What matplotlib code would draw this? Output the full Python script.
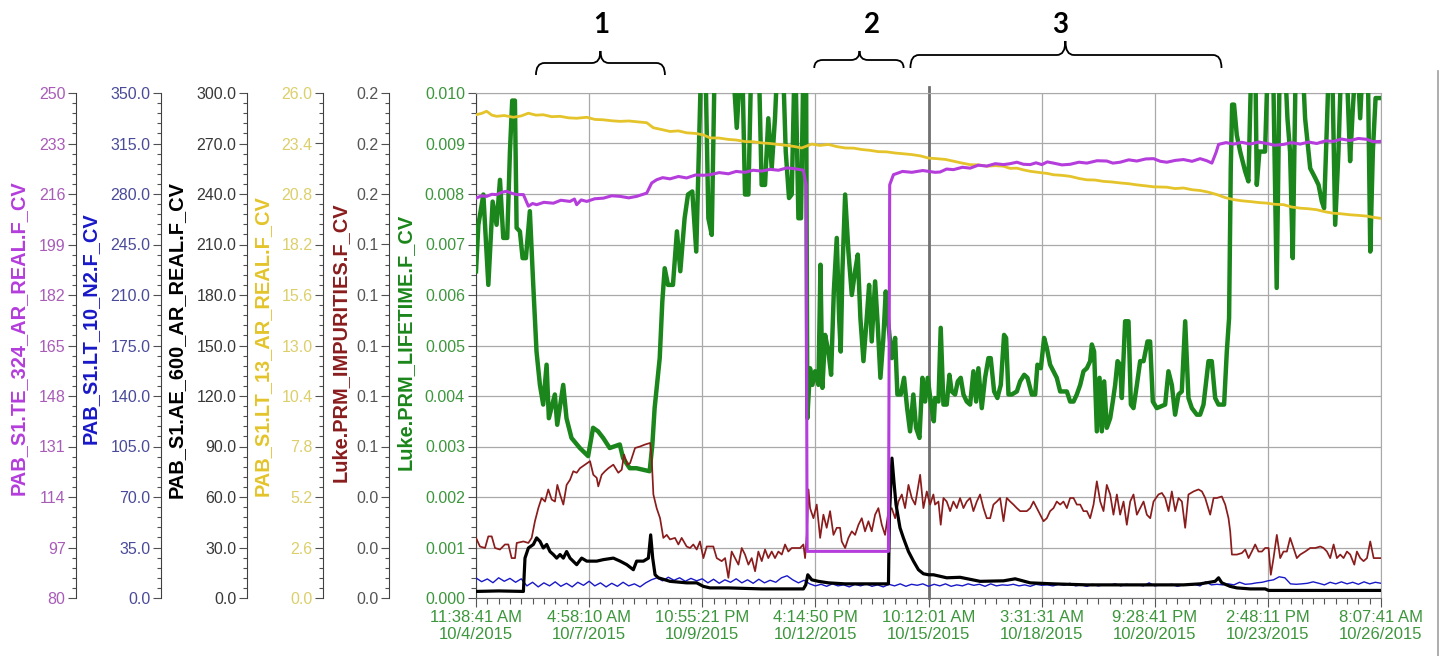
import numpy as np
import matplotlib
matplotlib.use("Agg")
import matplotlib.pyplot as plt
import matplotlib.transforms as mtransforms
from matplotlib.path import Path
from matplotlib.patches import PathPatch
from matplotlib.lines import Line2D
from matplotlib.ticker import FixedLocator, AutoMinorLocator, FormatStrFormatter

plt.rcParams['font.family'] = ['Liberation Sans', 'DejaVu Sans']

# ---------------- data ----------------
# x position: elapsed time measured in tick intervals (tick k = time_labels[k])
time_labels = ["11:38:41 AM\n10/4/2015", "4:58:10 AM\n10/7/2015", "10:55:21 PM\n10/9/2015",
               "4:14:50 PM\n10/12/2015", "10:12:01 AM\n10/15/2015", "3:31:31 AM\n10/18/2015",
               "9:28:41 PM\n10/20/2015", "2:48:11 PM\n10/23/2015", "8:07:41 AM\n10/26/2015"]
time_ticks = [0, 1, 2, 3, 4, 5, 6, 7, 8]

# Luke.PRM_LIFETIME.F_CV  (values in units of 1e-3; 11 = off scale above 0.010)
lifetime_pts = [
    (0.000, 6.47), (0.021, 7.39), (0.065, 7.99), (0.109, 6.20), (0.147, 7.85), (0.182, 7.39),
    (0.212, 8.28), (0.241, 7.13), (0.276, 7.13), (0.300, 8.84), (0.320, 9.85), (0.344, 9.85),
    (0.359, 7.33), (0.388, 7.26), (0.412, 6.73), (0.441, 6.73), (0.476, 7.66), (0.506, 6.20),
    (0.535, 4.88), (0.565, 4.22), (0.594, 3.83), (0.624, 4.62), (0.644, 3.56), (0.697, 4.03),
    (0.718, 3.43), (0.771, 4.22), (0.800, 3.56), (0.844, 3.17), (0.918, 2.97), (0.991, 2.81),
    (1.035, 3.37), (1.079, 3.30), (1.124, 3.17), (1.182, 2.97), (1.271, 3.04), (1.300, 2.77),
    (1.359, 2.57), (1.418, 2.57), (1.535, 2.51), (1.559, 3.04), (1.579, 3.76), (1.624, 4.75),
    (1.647, 5.87), (1.668, 6.53), (1.697, 6.20), (1.741, 6.20), (1.776, 7.26), (1.806, 6.47),
    (1.844, 7.52), (1.874, 7.99), (1.912, 8.05), (1.947, 6.86), (1.995, 11), (2.025, 11),
    (2.054, 7.52), (2.084, 7.19), (2.113, 11), (2.260, 11), (2.305, 9.31), (2.350, 11),
    (2.378, 7.99), (2.408, 7.99), (2.437, 11), (2.496, 11), (2.525, 8.18), (2.555, 8.18),
    (2.584, 9.50), (2.614, 8.51), (2.643, 9.50), (2.673, 11), (2.708, 11), (2.738, 8.84),
    (2.767, 7.92), (2.791, 7.99), (2.820, 11), (2.850, 7.52), (2.873, 7.52), (2.897, 11),
    (2.917, 11), (2.929, 3.56), (2.953, 4.55), (2.974, 4.22), (2.997, 4.49), (3.027, 4.22),
    (3.045, 6.60), (3.062, 4.16), (3.086, 5.21), (3.115, 4.88), (3.139, 4.42), (3.163, 6.07),
    (3.189, 7.13), (3.210, 5.54), (3.224, 4.88), (3.239, 6.47), (3.263, 7.99), (3.292, 6.86),
    (3.322, 6.00), (3.351, 6.47), (3.375, 6.80), (3.398, 5.54), (3.425, 4.69), (3.454, 5.54),
    (3.475, 6.20), (3.498, 5.08), (3.528, 6.27), (3.551, 5.41), (3.575, 4.36), (3.601, 5.15),
    (3.622, 6.07), (3.646, 5.41), (3.675, 4.75), (3.705, 5.15), (3.725, 4.03), (3.755, 4.03),
    (3.784, 4.36), (3.811, 3.76), (3.837, 3.30), (3.866, 4.03), (3.890, 3.37), (3.920, 3.17),
    (3.946, 4.36), (3.970, 3.89), (3.993, 4.36), (4.023, 3.83), (4.047, 3.50), (4.058, 3.96),
    (4.088, 3.89), (4.108, 5.35), (4.132, 3.83), (4.161, 3.83), (4.185, 4.42), (4.205, 4.09),
    (4.235, 4.03), (4.259, 4.29), (4.285, 4.36), (4.309, 4.03), (4.338, 3.89), (4.368, 3.83),
    (4.397, 4.49), (4.421, 3.89), (4.441, 4.55), (4.471, 3.76), (4.500, 4.36), (4.530, 4.75),
    (4.550, 4.75), (4.580, 4.09), (4.609, 3.96), (4.639, 4.22), (4.668, 5.21), (4.686, 5.15),
    (4.707, 4.03), (4.736, 4.03), (4.781, 4.09), (4.810, 4.29), (4.846, 4.42), (4.875, 4.36),
    (4.913, 4.03), (4.943, 4.03), (4.963, 4.62), (4.993, 4.55), (5.022, 5.15), (5.046, 4.95),
    (5.075, 4.62), (5.105, 4.49), (5.134, 4.36), (5.164, 4.09), (5.193, 4.09), (5.223, 4.09),
    (5.252, 3.89), (5.282, 3.89), (5.311, 4.03), (5.341, 4.22), (5.370, 4.49), (5.400, 4.55),
    (5.429, 4.69), (5.444, 5.02), (5.464, 4.88), (5.488, 3.30), (5.512, 4.36), (5.532, 3.30),
    (5.553, 4.29), (5.576, 3.37), (5.606, 3.56), (5.629, 3.89), (5.650, 4.22), (5.671, 4.69),
    (5.694, 4.62), (5.709, 3.96), (5.738, 5.48), (5.768, 5.48), (5.789, 3.83), (5.812, 3.76),
    (5.842, 4.22), (5.871, 4.69), (5.901, 4.69), (5.936, 5.08), (5.959, 5.08), (5.983, 3.89),
    (6.018, 3.76), (6.092, 3.83), (6.121, 4.49), (6.151, 4.22), (6.180, 3.63), (6.210, 4.03),
    (6.239, 4.09), (6.269, 5.48), (6.298, 3.96), (6.328, 3.76), (6.372, 3.63), (6.401, 3.63),
    (6.431, 3.83), (6.475, 4.69), (6.504, 4.69), (6.534, 3.96), (6.563, 3.83), (6.613, 3.83),
    (6.637, 4.88), (6.657, 5.54), (6.672, 8.51), (6.684, 9.77), (6.701, 9.77), (6.725, 9.17),
    (6.755, 8.84), (6.799, 8.45), (6.828, 8.25), (6.858, 11), (6.887, 11), (6.902, 8.18),
    (6.925, 8.84), (6.975, 8.84), (7.005, 11), (7.043, 11), (7.078, 6.14), (7.107, 11),
    (7.143, 11), (7.173, 9.50), (7.196, 8.84), (7.220, 6.73), (7.249, 11), (7.299, 11),
    (7.329, 9.50), (7.374, 8.51), (7.418, 8.32), (7.448, 8.18), (7.477, 7.85), (7.497, 7.72),
    (7.521, 9.31), (7.545, 11), (7.565, 11), (7.595, 7.39), (7.624, 8.84), (7.654, 11),
    (7.689, 11), (7.727, 8.65), (7.748, 9.57), (7.786, 11), (7.816, 9.50), (7.846, 11),
    (7.881, 11), (7.905, 6.86), (7.928, 8.84), (7.952, 9.90), (7.987, 9.90)]

# PAB_S1.TE_324_AR_REAL.F_CV
te324_pts = [
    (0.000, 214.6), (0.050, 215.4), (0.094, 215.2), (0.140, 215.9), (0.183, 215.8), (0.230, 216.6),
    (0.271, 216.9), (0.320, 216.2), (0.360, 215.8), (0.419, 215.8), (0.445, 213.5), (0.463, 211.9),
    (0.500, 212.8), (0.536, 212.4), (0.600, 213.2), (0.684, 212.9), (0.750, 213.9), (0.831, 213.5),
    (0.870, 214.3), (0.890, 212.4), (0.930, 214.0), (0.979, 213.5), (1.050, 214.4), (1.126, 214.6),
    (1.200, 215.4), (1.274, 215.2), (1.350, 214.7), (1.420, 215.2), (1.509, 216.3), (1.553, 219.7),
    (1.597, 220.8), (1.650, 221.5), (1.715, 221.1), (1.790, 221.9), (1.862, 221.4), (1.940, 222.4),
    (2.010, 222.3), (2.069, 222.5), (2.150, 223.2), (2.231, 222.8), (2.300, 223.6), (2.378, 223.3),
    (2.450, 224.0), (2.526, 223.7), (2.600, 224.3), (2.673, 224.0), (2.750, 224.8), (2.820, 224.5),
    (2.894, 224.0), (2.918, 219.1), (2.927, 95.7), (3.646, 95.7), (3.657, 219.1), (3.690, 222.5),
    (3.770, 223.6), (3.852, 223.3), (3.950, 223.9), (4.058, 223.3), (4.102, 223.4), (4.160, 224.4),
    (4.220, 224.2), (4.300, 225.0), (4.368, 224.7), (4.440, 225.7), (4.515, 225.4), (4.590, 226.2),
    (4.663, 225.9), (4.720, 226.2), (4.781, 226.7), (4.840, 226.0), (4.899, 225.9), (4.950, 226.5),
    (5.002, 225.9), (5.050, 226.8), (5.105, 226.4), (5.180, 225.8), (5.252, 226.0), (5.330, 226.7),
    (5.400, 226.4), (5.490, 227.2), (5.576, 227.1), (5.630, 226.4), (5.694, 226.7), (5.770, 227.5),
    (5.842, 227.1), (5.920, 227.8), (5.989, 227.9), (6.050, 227.0), (6.107, 226.7), (6.180, 227.3),
    (6.254, 227.6), (6.330, 227.0), (6.401, 227.9), (6.460, 227.2), (6.505, 226.4), (6.543, 230.1),
    (6.564, 232.7), (6.630, 233.3), (6.696, 232.8), (6.770, 233.4), (6.844, 232.8), (6.920, 233.5),
    (6.991, 233.0), (7.060, 232.4), (7.139, 232.7), (7.210, 233.3), (7.286, 232.8), (7.360, 233.5),
    (7.432, 233.0), (7.510, 233.9), (7.580, 233.7), (7.650, 234.5), (7.727, 234.0), (7.800, 234.7),
    (7.875, 234.4), (7.930, 233.6), (7.993, 233.7)]

# PAB_S1.LT_10_N2.F_CV  (evenly sampled over the whole span)
lt10_vals = [
    13.9, 11.3, 13.2, 10.6, 14.0, 11.6, 13.6, 10.9, 13.3,
    8.4, 10.9, 7.7, 10.5, 8.4, 11.2, 8.1, 10.2, 7.7, 10.9, 8.8, 11.6, 8.4, 10.5, 7.7, 10.2, 8.1,
    10.9, 8.4, 9.8, 7.7, 10.5,
    12.6, 14.0, 11.9, 14.4, 12.3, 14.0, 11.6, 13.6, 11.9,
    13.3, 10.5, 13.0, 10.2, 12.6, 10.9, 13.3, 10.5, 12.6, 10.2, 13.0, 10.5, 12.3, 10.9, 14.0,
    15.4, 12.6, 10.5, 12.3,
    9.8, 8.4, 9.5, 8.1, 9.8, 8.4, 9.1, 7.7, 9.5, 8.4,
    9.8, 8.1, 9.1, 7.7, 9.5, 8.4, 9.8, 8.1, 9.5, 8.8,
    9.8, 8.1, 9.5, 8.4, 9.8, 8.1, 9.1, 8.4, 9.8, 8.8,
    9.5, 8.1, 9.8, 8.4, 9.1, 8.8, 9.5, 8.4, 9.1, 8.1,
    9.5, 8.8, 9.1, 8.4, 9.5, 8.8, 10.2, 8.4, 9.1, 8.1,
    9.5, 8.4, 9.1, 8.8, 9.8, 8.4, 9.5, 8.8, 9.1, 8.4,
    10.5, 8.4, 9.1, 8.8, 9.5, 8.1, 9.1, 8.8, 9.5, 8.4, 11.2,
    9.1, 9.5, 9.1, 9.8, 9.1, 10.9, 9.5, 9.8, 10.5, 10.9,
    11.9, 12.6, 14.7, 14.0, 9.8, 9.5, 9.8, 10.2, 11.2, 10.2,
    9.1, 10.9, 9.8, 11.2, 9.8, 10.9, 9.5, 11.2, 9.8, 10.9, 10.2]

# PAB_S1.AE_600_AR_REAL.F_CV
ae600_pts = [
    (0.000, 3.9), (0.200, 4.2), (0.419, 3.9), (0.433, 23.7), (0.463, 29.7), (0.507, 31.8),
    (0.536, 35.7), (0.566, 33.6), (0.595, 29.7), (0.625, 31.8), (0.654, 27.6), (0.684, 25.8),
    (0.713, 23.7), (0.743, 25.8), (0.772, 23.7), (0.801, 27.6), (0.831, 23.7), (0.890, 19.8),
    (0.934, 23.7), (0.979, 21.9), (1.067, 21.9), (1.126, 22.8), (1.214, 23.7), (1.274, 21.9),
    (1.333, 19.8), (1.391, 16.8), (1.420, 21.9), (1.480, 21.9), (1.524, 23.7), (1.544, 37.5),
    (1.562, 23.7), (1.583, 13.8), (1.612, 12.0), (1.715, 9.9), (1.862, 9.0), (1.951, 9.0),
    (2.010, 6.9), (2.069, 6.0), (2.231, 6.0), (2.526, 5.4), (2.894, 5.4), (2.915, 7.8),
    (2.933, 13.8), (2.968, 10.8), (3.027, 9.9), (3.115, 9.0), (3.263, 8.4), (3.646, 8.4),
    (3.654, 47.4), (3.677, 83.1), (3.697, 67.2), (3.713, 55.5), (3.748, 41.7), (3.778, 35.7),
    (3.823, 27.6), (3.867, 21.9), (3.911, 16.8), (3.955, 14.4), (4.000, 13.8), (4.044, 13.8),
    (4.161, 12.0), (4.279, 12.3), (4.456, 9.9), (4.663, 10.2), (4.766, 11.4), (4.899, 9.0),
    (5.105, 8.4), (5.400, 7.8), (5.694, 7.8), (5.989, 7.8), (6.254, 7.8), (6.401, 8.4),
    (6.534, 9.9), (6.564, 12.0), (6.593, 9.0), (6.667, 6.9), (6.726, 6.0), (6.844, 5.4),
    (6.976, 5.4), (7.006, 4.5), (7.993, 4.5)]

# PAB_S1.LT_13_AR_REAL.F_CV
lt13_pts = [
    (0.000, 24.88), (0.050, 24.95), (0.094, 25.06), (0.140, 24.86), (0.183, 24.80), (0.250, 24.84),
    (0.330, 24.75), (0.400, 24.82), (0.463, 24.96), (0.530, 24.86), (0.595, 24.88), (0.670, 24.78),
    (0.743, 24.80), (0.820, 24.72), (0.890, 24.70), (0.979, 24.75), (1.050, 24.64), (1.126, 24.62),
    (1.200, 24.57), (1.274, 24.54), (1.350, 24.56), (1.420, 24.52), (1.509, 24.47), (1.568, 24.21),
    (1.640, 24.12), (1.715, 24.02), (1.790, 24.05), (1.862, 23.95), (1.940, 23.92), (2.010, 23.84),
    (2.069, 23.69), (2.150, 23.68), (2.231, 23.61), (2.300, 23.58), (2.378, 23.50), (2.450, 23.49),
    (2.526, 23.43), (2.600, 23.40), (2.673, 23.35), (2.750, 23.30), (2.820, 23.24), (2.879, 23.17),
    (2.968, 23.37), (3.040, 23.30), (3.115, 23.35), (3.190, 23.24), (3.263, 23.17), (3.340, 23.16),
    (3.410, 23.09), (3.480, 23.05), (3.557, 22.98), (3.630, 22.97), (3.705, 22.91), (3.780, 22.87),
    (3.852, 22.83), (3.930, 22.76), (4.000, 22.65), (4.073, 22.62), (4.150, 22.58), (4.220, 22.49),
    (4.290, 22.40), (4.368, 22.31), (4.440, 22.30), (4.515, 22.23), (4.590, 22.26), (4.663, 22.23),
    (4.720, 22.12), (4.781, 22.13), (4.840, 22.04), (4.899, 21.97), (5.002, 21.89), (5.050, 21.86),
    (5.105, 21.79), (5.180, 21.76), (5.252, 21.71), (5.330, 21.60), (5.400, 21.53), (5.470, 21.52),
    (5.547, 21.45), (5.620, 21.42), (5.694, 21.37), (5.770, 21.33), (5.842, 21.27), (5.920, 21.22),
    (5.989, 21.17), (6.107, 21.15), (6.180, 21.08), (6.254, 21.11), (6.330, 21.02), (6.401, 20.98),
    (6.470, 20.90), (6.549, 20.77), (6.620, 20.62), (6.696, 20.51), (6.770, 20.45), (6.844, 20.41),
    (6.920, 20.36), (6.991, 20.33), (7.060, 20.27), (7.139, 20.25), (7.210, 20.13), (7.286, 20.07),
    (7.360, 20.04), (7.432, 19.99), (7.510, 19.88), (7.580, 19.81), (7.650, 19.78), (7.727, 19.73),
    (7.800, 19.70), (7.875, 19.66), (7.930, 19.60), (7.993, 19.55)]

# Luke.PRM_IMPURITIES.F_CV
impurities_pts = [
    (0.000, 0.0238), (0.035, 0.0204), (0.080, 0.0198), (0.109, 0.0244), (0.139, 0.0244), (0.168, 0.0198),
    (0.212, 0.0192), (0.256, 0.0212), (0.286, 0.0212), (0.315, 0.0158), (0.345, 0.0158), (0.360, 0.0218),
    (0.419, 0.0224), (0.463, 0.0218), (0.492, 0.0238), (0.521, 0.0304), (0.551, 0.0356), (0.580, 0.0396),
    (0.610, 0.0382), (0.639, 0.0430), (0.669, 0.0390), (0.698, 0.0382), (0.719, 0.0448), (0.743, 0.0410),
    (0.772, 0.0370), (0.801, 0.0448), (0.831, 0.0468), (0.860, 0.0502), (0.890, 0.0496), (0.919, 0.0514),
    (0.963, 0.0528), (1.008, 0.0542), (1.037, 0.0488), (1.067, 0.0476), (1.081, 0.0442), (1.111, 0.0488),
    (1.140, 0.0502), (1.170, 0.0514), (1.214, 0.0528), (1.258, 0.0496), (1.288, 0.0508), (1.309, 0.0568),
    (1.338, 0.0528), (1.362, 0.0534), (1.406, 0.0594), (1.450, 0.0600), (1.495, 0.0608), (1.539, 0.0614),
    (1.553, 0.0554), (1.568, 0.0410), (1.597, 0.0356), (1.627, 0.0316), (1.656, 0.0238), (1.686, 0.0250),
    (1.715, 0.0232), (1.759, 0.0238), (1.789, 0.0212), (1.818, 0.0238), (1.862, 0.0204), (1.892, 0.0198),
    (1.921, 0.0212), (1.951, 0.0192), (1.980, 0.0224), (2.010, 0.0158), (2.040, 0.0204), (2.069, 0.0204),
    (2.098, 0.0204), (2.128, 0.0158), (2.172, 0.0146), (2.202, 0.0158), (2.231, 0.0080), (2.260, 0.0184),
    (2.290, 0.0158), (2.320, 0.0132), (2.349, 0.0198), (2.378, 0.0172), (2.408, 0.0132), (2.437, 0.0158),
    (2.467, 0.0106), (2.496, 0.0184), (2.526, 0.0146), (2.555, 0.0192), (2.584, 0.0158), (2.614, 0.0184),
    (2.643, 0.0158), (2.673, 0.0184), (2.703, 0.0172), (2.732, 0.0212), (2.761, 0.0184), (2.791, 0.0198),
    (2.820, 0.0198), (2.865, 0.0198), (2.894, 0.0212), (2.909, 0.0158), (2.924, 0.0250), (2.939, 0.0430),
    (2.953, 0.0356), (2.983, 0.0316), (3.012, 0.0370), (3.042, 0.0238), (3.071, 0.0330), (3.100, 0.0278),
    (3.130, 0.0344), (3.160, 0.0250), (3.189, 0.0278), (3.218, 0.0278), (3.233, 0.0224), (3.263, 0.0198),
    (3.292, 0.0238), (3.322, 0.0264), (3.351, 0.0250), (3.381, 0.0290), (3.410, 0.0316), (3.439, 0.0264),
    (3.469, 0.0304), (3.498, 0.0264), (3.528, 0.0330), (3.557, 0.0356), (3.587, 0.0290), (3.616, 0.0250),
    (3.646, 0.0344), (3.675, 0.0356), (3.705, 0.0316), (3.734, 0.0382), (3.764, 0.0410), (3.793, 0.0356),
    (3.823, 0.0448), (3.852, 0.0396), (3.882, 0.0370), (3.911, 0.0448), (3.926, 0.0488), (3.955, 0.0356),
    (3.985, 0.0422), (4.014, 0.0370), (4.043, 0.0410), (4.058, 0.0370), (4.088, 0.0382), (4.108, 0.0290),
    (4.132, 0.0396), (4.161, 0.0382), (4.191, 0.0344), (4.220, 0.0382), (4.250, 0.0356), (4.279, 0.0396),
    (4.309, 0.0356), (4.338, 0.0382), (4.368, 0.0396), (4.397, 0.0344), (4.427, 0.0382), (4.456, 0.0410),
    (4.486, 0.0356), (4.515, 0.0316), (4.545, 0.0316), (4.574, 0.0370), (4.604, 0.0382), (4.633, 0.0396),
    (4.663, 0.0304), (4.692, 0.0396), (4.722, 0.0382), (4.751, 0.0370), (4.781, 0.0356), (4.810, 0.0344),
    (4.869, 0.0344), (4.899, 0.0356), (4.928, 0.0382), (4.958, 0.0356), (4.987, 0.0330), (5.017, 0.0304),
    (5.046, 0.0316), (5.075, 0.0344), (5.105, 0.0356), (5.134, 0.0382), (5.164, 0.0370), (5.193, 0.0382),
    (5.223, 0.0356), (5.252, 0.0396), (5.282, 0.0396), (5.311, 0.0370), (5.341, 0.0370), (5.370, 0.0344),
    (5.400, 0.0344), (5.429, 0.0316), (5.459, 0.0370), (5.488, 0.0462), (5.518, 0.0382), (5.547, 0.0344),
    (5.576, 0.0448), (5.606, 0.0410), (5.635, 0.0330), (5.665, 0.0410), (5.694, 0.0330), (5.724, 0.0382),
    (5.753, 0.0290), (5.783, 0.0382), (5.812, 0.0410), (5.842, 0.0330), (5.871, 0.0356), (5.901, 0.0382),
    (5.930, 0.0330), (5.960, 0.0316), (5.989, 0.0382), (6.033, 0.0410), (6.063, 0.0416), (6.092, 0.0396),
    (6.122, 0.0344), (6.151, 0.0422), (6.181, 0.0344), (6.210, 0.0396), (6.240, 0.0382), (6.269, 0.0278),
    (6.298, 0.0410), (6.343, 0.0422), (6.387, 0.0430), (6.417, 0.0422), (6.446, 0.0396), (6.490, 0.0330),
    (6.520, 0.0396), (6.549, 0.0396), (6.593, 0.0402), (6.623, 0.0370), (6.652, 0.0316), (6.667, 0.0264),
    (6.682, 0.0172), (6.726, 0.0172), (6.770, 0.0178), (6.800, 0.0192), (6.829, 0.0158), (6.858, 0.0184),
    (6.888, 0.0212), (6.917, 0.0184), (6.947, 0.0184), (6.976, 0.0198), (7.006, 0.0198), (7.026, 0.0092),
    (7.050, 0.0158), (7.079, 0.0250), (7.109, 0.0158), (7.138, 0.0184), (7.168, 0.0184), (7.197, 0.0238),
    (7.227, 0.0198), (7.256, 0.0158), (7.286, 0.0172), (7.330, 0.0184), (7.374, 0.0198), (7.419, 0.0198),
    (7.463, 0.0204), (7.492, 0.0198), (7.522, 0.0184), (7.551, 0.0158), (7.581, 0.0212), (7.610, 0.0158),
    (7.640, 0.0172), (7.669, 0.0158), (7.699, 0.0184), (7.728, 0.0172), (7.764, 0.0132), (7.787, 0.0184),
    (7.817, 0.0158), (7.846, 0.0146), (7.876, 0.0158), (7.905, 0.0224), (7.935, 0.0158), (7.994, 0.0158)]

# annotation brackets: (label, start, peak, end) in time-axis units
brackets = [("1", 0.53, 1.10, 1.67), ("2", 2.99, 3.39, 3.78), ("3", 3.84, 5.21, 6.59)]
bracket_label_x = [1.105, 3.50, 5.16]

# ---------------- styling ----------------
W, H = 1440, 656
L, R, T, B = 476, 1381, 93, 598

C_GREEN = "#1b861b"
C_PURPLE = "#b43ddc"
C_BLUE = "#1818c8"
C_BLACK = "#000000"
C_YELLOW = "#e4c42a"
C_DRED = "#8a1c1c"

fig = plt.figure(figsize=(W / 100, H / 100), dpi=100)
ax = fig.add_axes([L / W, 1 - B / H, (R - L) / W, (B - T) / H])
ax.set_axisbelow(True)

# --- main (lifetime) axis ---
gt, gv = zip(*lifetime_pts)
ax.plot(gt, np.array(gv) * 1e-3, color=C_GREEN, lw=3.2, zorder=3)
ax.set_xlim(0, 8)
ax.set_ylim(0, 0.010)
ax.xaxis.set_major_locator(FixedLocator(time_ticks))
ax.set_xticklabels(time_labels)
ax.xaxis.set_minor_locator(AutoMinorLocator(10))
ax.yaxis.set_major_locator(FixedLocator(np.linspace(0, 0.010, 11)))
ax.yaxis.set_major_formatter(FormatStrFormatter('%.3f'))
ax.yaxis.set_minor_locator(AutoMinorLocator(5))
ax.grid(True, which='major', color='#a9a9a9', lw=0.9)
ax.axvline(4, color='#707070', lw=2.0, zorder=1.5, ymax=1.012, clip_on=False)
ax.tick_params(axis='x', which='major', direction='out', length=6.5, width=0.8, color='#555555',
               labelcolor='#3c963c', labelsize=12, pad=2)
ax.tick_params(axis='x', which='minor', direction='out', length=4.5, width=0.8, color='#555555')
ax.tick_params(axis='y', which='major', direction='out', length=6, width=0.8, color='#555555',
               labelcolor='#3c963c', labelsize=11.5, pad=2)
ax.tick_params(axis='y', which='minor', direction='out', length=3.5, width=0.8, color='#555555')
ax.spines['left'].set_color('#404040')
ax.spines['bottom'].set_color('#707070')
ax.spines['top'].set_color('#a9a9a9')
ax.spines['right'].set_color('#a9a9a9')


def side_axis(pts, color, lw, lim, ticks, fmt, spine_px, lblcolor):
    a = ax.twinx()
    a.patch.set_visible(False)
    for s in a.spines.values():
        s.set_visible(False)
    a.spines['left'].set_visible(True)
    a.spines['left'].set_position(('axes', (spine_px - L) / (R - L)))
    a.spines['left'].set_color('#404040')
    a.yaxis.set_ticks_position('left')
    a.set_ylim(*lim)
    a.yaxis.set_major_locator(FixedLocator(ticks))
    a.yaxis.set_major_formatter(FormatStrFormatter(fmt))
    a.yaxis.set_minor_locator(AutoMinorLocator(5))
    a.tick_params(axis='y', which='major', direction='out', length=5.5, width=0.8, color='#505050',
                  labelcolor=lblcolor, labelsize=11.5, pad=2)
    a.tick_params(axis='y', which='minor', direction='out', length=3, width=0.8, color='#505050')
    if pts is not None:
        t, v = pts
        a.plot(t, v, color=color, lw=lw)
    a.set_xlim(0, 8)
    return a


blue_t = np.linspace(0, 8, len(lt10_vals))
side_axis((blue_t, lt10_vals), C_BLUE, 1.0, (0, 350), np.linspace(0, 350, 11), '%.1f', 161, '#4a4a9a')
side_axis(tuple(zip(*impurities_pts)), C_DRED, 1.25, (0, 0.2), np.linspace(0, 0.2, 11), '%.1f', 389, '#555555')
side_axis(tuple(zip(*ae600_pts)), C_BLACK, 2.3, (0, 300), np.linspace(0, 300, 11), '%.1f', 247, '#383838')
side_axis(tuple(zip(*lt13_pts)), C_YELLOW, 2.0, (0, 26), np.linspace(0, 26, 11), '%.1f', 323, '#dccf6a')
side_axis(tuple(zip(*te324_pts)), C_PURPLE, 2.2, (80, 250), np.linspace(80, 250, 11), '%d', 76, '#a85cb8')

# --- axis titles ---
ylabels = [("PAB_S1.TE_324_AR_REAL.F_CV", C_PURPLE, 18, 338),
           ("PAB_S1.LT_10_N2.F_CV", C_BLUE, 90, 328),
           ("PAB_S1.AE_600_AR_REAL.F_CV", C_BLACK, 176, 339),
           ("PAB_S1.LT_13_AR_REAL.F_CV", C_YELLOW, 262, 346),
           ("Luke.PRM_IMPURITIES.F_CV", C_DRED, 340, 342),
           ("Luke.PRM_LIFETIME.F_CV", C_GREEN, 405, 342)]
for txt, col, px, py in ylabels:
    fig.text(px / W, 1 - py / H, txt, rotation=90, ha='center', va='center', color=col,
             fontsize=14.4, fontweight='bold')

# --- brackets and numbers above the plot ---
tr = mtransforms.blended_transform_factory(ax.transData, fig.transFigure)
brace_y = {"1": (75, 63, 51), "2": (68, 60, 51), "3": (68, 55, 41)}
r = 0.075
for (lab, t0, tm, t1), lx in zip(brackets, bracket_label_x):
    ye, yh, yt = [1 - v / H for v in brace_y[lab]]
    verts = [(t0, ye), (t0, yh), (t0 + r, yh), (tm - r, yh), (tm, yh), (tm, yt),
             (tm, yh), (tm + r, yh), (t1 - r, yh), (t1, yh), (t1, ye)]
    codes = [Path.MOVETO, Path.CURVE3, Path.CURVE3, Path.LINETO, Path.CURVE3, Path.CURVE3,
             Path.CURVE3, Path.CURVE3, Path.LINETO, Path.CURVE3, Path.CURVE3]
    fig.add_artist(PathPatch(Path(verts, codes), transform=tr, fill=False, edgecolor='black', lw=1.3))
    fig.text(lx, 1 - 25 / H, lab, transform=tr, ha='center', va='center', fontsize=20,
             fontweight='bold', family=['Lato', 'DejaVu Sans'])

# thin frame line at the right edge of the picture
fig.add_artist(Line2D([1437.5 / W, 1437.5 / W], [1 - 71 / H, 0], transform=fig.transFigure,
                      color='#a0a0a0', lw=1.2))

fig.savefig("out.png", dpi=100)
